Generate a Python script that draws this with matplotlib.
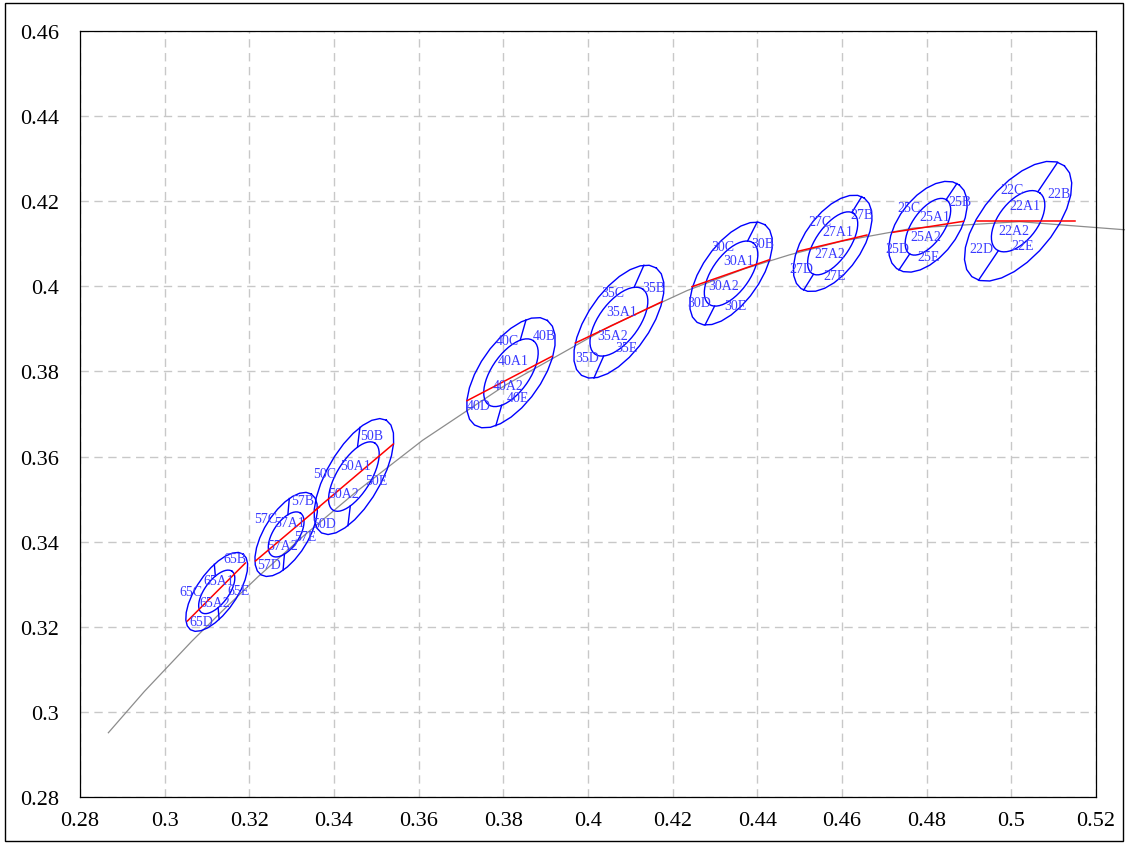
import numpy as np
import matplotlib
matplotlib.use("Agg")
import matplotlib.pyplot as plt
from matplotlib.patches import Rectangle

# ---------------- data ----------------
bins = ["65", "57", "50", "40", "35", "30", "27", "25", "22"]
center_x = [0.3123, 0.3287, 0.3447, 0.3818, 0.4073, 0.4338, 0.4578, 0.4803, 0.5016]
center_y = [0.3282, 0.3417, 0.3553, 0.3797, 0.3917, 0.4030, 0.4101, 0.4140, 0.4153]

outer_a = [0.01085, 0.01120, 0.01530, 0.01500, 0.01540, 0.01400, 0.01300, 0.01230, 0.01700]
outer_b = [0.00470, 0.00520, 0.00636, 0.00730, 0.00730, 0.00680, 0.00680, 0.00700, 0.00840]
outer_t = [55, 58, 60, 55, 55, 55, 55, 53, 50]

inner_a = [0.00605, 0.00605, 0.00930, 0.00920, 0.00950, 0.00890, 0.00860, 0.00770, 0.00840]
inner_b = [0.00280, 0.00305, 0.00400, 0.00450, 0.00470, 0.00440, 0.00400, 0.00375, 0.00460]
inner_t = [53, 56, 58, 55, 53, 54, 55, 55, 52]

iso_angle = [95, 85, 83, 74, 66, 63, 58, 56, 56]

red_x1 = [0.30538, 0.32144, 0.33560, 0.37143, 0.39700, 0.42455, 0.44958, 0.47202, 0.49192]
red_y1 = [0.32136, 0.33546, 0.34744, 0.37313, 0.38668, 0.39991, 0.40823, 0.41270, 0.41535]
red_x2 = [0.31907, 0.33655, 0.35402, 0.39150, 0.41747, 0.44288, 0.46588, 0.48869, 0.51506]
red_y2 = [0.33499, 0.34815, 0.36295, 0.38356, 0.39639, 0.40626, 0.41206, 0.41528, 0.41535]

# Planckian locus (9000 K .. 2000 K)
planck_x = [0.2867, 0.2952, 0.3064, 0.3135, 0.3221, 0.3324, 0.3451, 0.3609, 0.3805,
            0.4053, 0.4234, 0.4369, 0.4476, 0.4599, 0.4770, 0.5019, 0.5267]
planck_y = [0.2951, 0.3048, 0.3166, 0.3236, 0.3318, 0.3410, 0.3516, 0.3638, 0.3768,
            0.3907, 0.3990, 0.4041, 0.4074, 0.4106, 0.4137, 0.4152, 0.4133]

x_ticks = [0.28, 0.30, 0.32, 0.34, 0.36, 0.38, 0.40, 0.42, 0.44, 0.46, 0.48, 0.50, 0.52]
x_tick_labels = ["0.28", "0.3", "0.32", "0.34", "0.36", "0.38", "0.4", "0.42", "0.44",
                 "0.46", "0.48", "0.5", "0.52"]
y_ticks = [0.28, 0.30, 0.32, 0.34, 0.36, 0.38, 0.40, 0.42, 0.44, 0.46]
y_tick_labels = ["0.28", "0.3", "0.32", "0.34", "0.36", "0.38", "0.4", "0.42", "0.44", "0.46"]

sub_names = ["A1", "A2", "B", "C", "D", "E"]

# label offsets (pixels, x right / y down) relative to bin centre
label_off = {
    "65": [(2, -11), (-2, 11), (18, -33), (-26, 0), (-15, 30), (22, -1)],
    "57": [(3, -12), (-4, 11), (16, -34), (-21, -16), (-17, 30), (19, 2)],
    "50": [(2, -11), (-10, 17), (18, -41), (-29, -3), (-30, 47), (22, 4)],
    "40": [(2, -12), (-3, 13), (33, -37), (-4, -32), (-32, 33), (7, 25)],
    "35": [(3, -10), (-6, 14), (35, -34), (-6, -29), (-32, 36), (7, 26)],
    "30": [(8, -13), (-7, 12), (32, -30), (-8, -27), (-32, 29), (4, 32)],
    "27": [(5, -12), (-3, 10), (29, -29), (-13, -22), (-31, 25), (2, 32)],
    "25": [(7, -10), (-2, 10), (32, -25), (-19, -19), (-31, 22), (1, 30)],
    "22": [(7, -16), (-4, 9), (41, -28), (-6, -32), (-37, 27), (5, 24)],
}

# ---------------- figure ----------------
W, H = 1126, 845
fig = plt.figure(figsize=(W / 100, H / 100), dpi=100)
ax = fig.add_axes([80 / W, 1 - 798 / H, (1096 - 80) / W, (798 - 32) / H])
ax.set_xlim(0.28, 0.52)
ax.set_ylim(0.28, 0.46)

ax.grid(True, color="#c8c8c8", linestyle=(0, (6, 4)), linewidth=1.0)
ax.set_axisbelow(True)
for s in ax.spines.values():
    s.set_color("black")
    s.set_linewidth(0.9)
ax.tick_params(length=0, labelsize=16)
ax.set_xticks(x_ticks)
ax.set_xticklabels(x_tick_labels, family="Liberation Serif")
ax.set_yticks(y_ticks)
ax.set_yticklabels(y_tick_labels, family="Liberation Serif")
ax.tick_params(axis="x", pad=10)
ax.tick_params(axis="y", pad=15)

# Planckian locus
ax.plot(planck_x, planck_y, color="#8c8c8c", linewidth=0.9, clip_on=False, zorder=2)


def ell(cx, cy, a, b, t, n):
    u = np.linspace(0, 2 * np.pi, n + 1)
    th = np.radians(t)
    x = cx + a * np.cos(u) * np.cos(th) - b * np.sin(u) * np.sin(th)
    y = cy + a * np.cos(u) * np.sin(th) + b * np.sin(u) * np.cos(th)
    return x, y


def radius(a, b, t, phi):
    d = np.radians(phi - t)
    return 1.0 / np.sqrt((np.cos(d) / a) ** 2 + (np.sin(d) / b) ** 2)


blue = "#0000ff"
for i, name in enumerate(bins):
    cx, cy = center_x[i], center_y[i]
    xo, yo = ell(cx, cy, outer_a[i], outer_b[i], outer_t[i], 26)
    ax.plot(xo, yo, color=blue, linewidth=1.0, zorder=3)
    xi, yi = ell(cx, cy, inner_a[i], inner_b[i], inner_t[i], 48)
    ax.plot(xi, yi, color=blue, linewidth=1.0, zorder=3)
    for phi in (iso_angle[i], iso_angle[i] + 180):
        r1 = radius(inner_a[i], inner_b[i], inner_t[i], phi)
        r2 = radius(outer_a[i], outer_b[i], outer_t[i], phi)
        c, s = np.cos(np.radians(phi)), np.sin(np.radians(phi))
        ax.plot([cx + r1 * c, cx + r2 * c], [cy + r1 * s, cy + r2 * s],
                color=blue, linewidth=1.0, zorder=3)
    ax.plot([red_x1[i], red_x2[i]], [red_y1[i], red_y2[i]], color="#ff0000",
            linewidth=1.1, zorder=4)
    for k, sub in enumerate(sub_names):
        dx, dy = label_off[name][k]
        ax.annotate(name + sub, (cx, cy), xytext=(dx * 0.72, -dy * 0.72),
                    textcoords="offset points", ha="center", va="center",
                    fontsize=10, color="#3a3aff", family="Liberation Serif",
                    zorder=5)

# figure border
fig.patches.append(Rectangle((5 / W, 3 / H), (W - 8) / W, (H - 7) / H,
                             transform=fig.transFigure, fill=False,
                             edgecolor="black", linewidth=1.0))

fig.savefig("out.png", dpi=100)
